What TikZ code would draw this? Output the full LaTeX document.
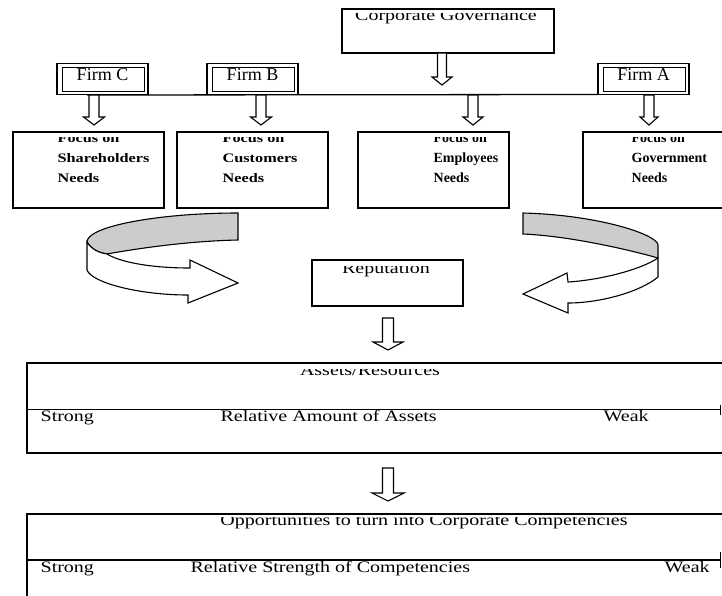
\documentclass[tikz,border=0pt]{standalone}
\usepackage{fontspec}
\setmainfont{Liberation Serif}
\newfontfamily\wf[FakeStretch=1.25]{Liberation Serif}
\newfontfamily\nf{Liberation Serif}
\usetikzlibrary{arrows.meta,calc}
\definecolor{ribbongray}{RGB}{204,204,204}
% block arrow: x, ytop, ybot, half shaft, half head
\newcommand\blkarrow[5]{%
  \draw[blk] ({#1-#4},#2) -- ({#1+#4},#2) -- ({#1+#4},{#3-8}) -- ({#1+#5},{#3-8})
    -- (#1,#3) -- ({#1-#5},{#3-8}) -- ({#1-#4},{#3-8}) -- cycle;}
\begin{document}
\begin{tikzpicture}[x=1pt,y=-1pt,line width=1.3pt,
  box/.style={draw,line width=1.3pt,inner sep=0pt,outer sep=0pt},
  firmbox/.style={draw,line width=1.8pt,inner sep=0pt,outer sep=0pt,minimum width=91,minimum height=31},
  blk/.style={draw,fill=white,line width=1.1pt,line join=miter},
  wtext/.style={font=\wf\fontsize{16}{18}\selectfont,inner sep=0pt},
  ntext/.style={font=\wf\bfseries\fontsize{13}{15}\selectfont,inner sep=0pt,anchor=base west},
  ctext/.style={font=\nf\bfseries\fontsize{14}{16}\selectfont,inner sep=0pt,anchor=base west},
  ftext/.style={font=\nf\fontsize{18}{18}\selectfont,inner sep=0pt,anchor=base},
  ribbonback/.style={draw,fill=ribbongray,line width=1.1pt},
  ribbonfront/.style={draw,fill=white,line width=1.1pt}]
\useasboundingbox (0,0) rectangle (722,595);
\clip (0,0) rectangle (722,595);

% Corporate Governance
\node[box,minimum width=212,minimum height=44] (cg) at (448,31) {};
\begin{scope}
  \clip (342,13) rectangle (554,53);
  \node[wtext,anchor=base] at (446,20) {Corporate Governance};
\end{scope}
\blkarrow{442}{53}{85}{4.5}{10}

% Firms
\node[firmbox] (fc) at (102.5,79) {};
\node[firmbox] (fb) at (252.5,79) {};
\node[firmbox] (fa) at (643.5,79) {};
\foreach \f in {fc,fb,fa}{
  \draw[line width=1pt] ($(\f.north west)+(5,4)$) rectangle ($(\f.south east)+(-4,-3)$);
}
\node[ftext] at (102.5,80) {Firm C};
\node[ftext] at (252.5,80) {Firm B};
\node[ftext] at (643.5,80) {Firm A};
\draw (87,95) -- (fa.south west);

\blkarrow{94}{95}{125}{5}{10.5}
\blkarrow{261}{95}{125}{5}{10.5}
\blkarrow{473}{95}{125}{5}{10}
\blkarrow{649}{95}{125}{5}{9}

% Needs boxes
\node[box,minimum width=151,minimum height=76] (sh) at (88.5,170) {};
\node[box,minimum width=151,minimum height=76] (cu) at (252.5,170) {};
\node[box,minimum width=151,minimum height=76] (em) at (433.5,170) {};
\node[box,minimum width=151,minimum height=76] (go) at (658.5,170) {};
\begin{scope}
  \clip (0,137) rectangle (722,208);
  \node[ntext] at (57,142) {Focus on};
  \node[ntext] at (222,142) {Focus on};
  \node[ctext] at (433,142) {Focus on};
  \node[ctext] at (631,142) {Focus on};
\end{scope}
\node[ntext] at (57,162) {Shareholders};
\node[ntext] at (57,182) {Needs};
\node[ntext] at (222,162) {Customers};
\node[ntext] at (222,182) {Needs};
\node[ctext] at (433,162) {Employees};
\node[ctext] at (433,182) {Needs};
\node[ctext] at (631,162) {Government};
\node[ctext] at (631,182) {Needs};

% Curved arrows
\filldraw[ribbonback] (238,213) .. controls (160,213) and (87,226) .. (87,242)
  .. controls (92,250) and (100,253) .. (107,254)
  .. controls (140,248) and (190,241) .. (238,240) -- cycle;
\filldraw[ribbonfront] (87,242) -- (87,270) .. controls (92,283) and (140,295) .. (188,295)
  -- (188,303) -- (238,283) -- (190,260) -- (190,268)
  .. controls (150,268) and (120,262) .. (107,254)
  .. controls (100,253) and (92,250) .. (87,242) -- cycle;

\filldraw[ribbonback] (523,213) .. controls (600,215) and (658,235) .. (658,245)
  -- (658,258) .. controls (630,250) and (570,236) .. (523,234) -- cycle;
\filldraw[ribbonfront] (658,258) -- (658,277) .. controls (640,292) and (600,303) .. (568,303)
  -- (568,313) -- (523,294) -- (567,273) -- (568,282)
  .. controls (600,280) and (640,270) .. (658,258) -- cycle;

% Reputation
\node[box,minimum width=151,minimum height=46] (rep) at (387.5,283) {};
\begin{scope}
  \clip (312,266.5) rectangle (463,306);
  \node[wtext,anchor=base] at (386,273) {Reputation};
\end{scope}
\blkarrow{388}{318}{350}{5.5}{15}

% Assets
\node[box,minimum width=713,minimum height=90] (as) at (383.5,408) {};
\begin{scope}
  \clip (27,369) rectangle (722,453);
  \node[wtext,anchor=base] at (370,375) {Assets/Resources};
\end{scope}
\draw[-{Bar[width=10pt]}] (as.west |- 0,409.5) -- (721,409.5);
\node[wtext,anchor=base west] at (40,421) {Strong};
\node[wtext,anchor=base west] at (220,421) {Relative Amount of Assets};
\node[wtext,anchor=base west] at (603,421) {Weak};

\blkarrow{388}{468}{501}{5.5}{16}

% Opportunities
\node[box,minimum width=713,minimum height=106] (op) at (383.5,567) {};
\begin{scope}
  \clip (27,517.5) rectangle (722,595);
  \node[wtext,anchor=base] at (424,525) {Opportunities to turn into Corporate Competencies};
\end{scope}
\draw[-{Bar[width=16pt]}] (op.west |- 0,560) -- (721,560);
\node[wtext,anchor=base west] at (40,572) {Strong};
\node[wtext,anchor=base west] at (190,572) {Relative Strength of Competencies};
\node[wtext,anchor=base west] at (664,572) {Weak};
\end{tikzpicture}
\end{document}
